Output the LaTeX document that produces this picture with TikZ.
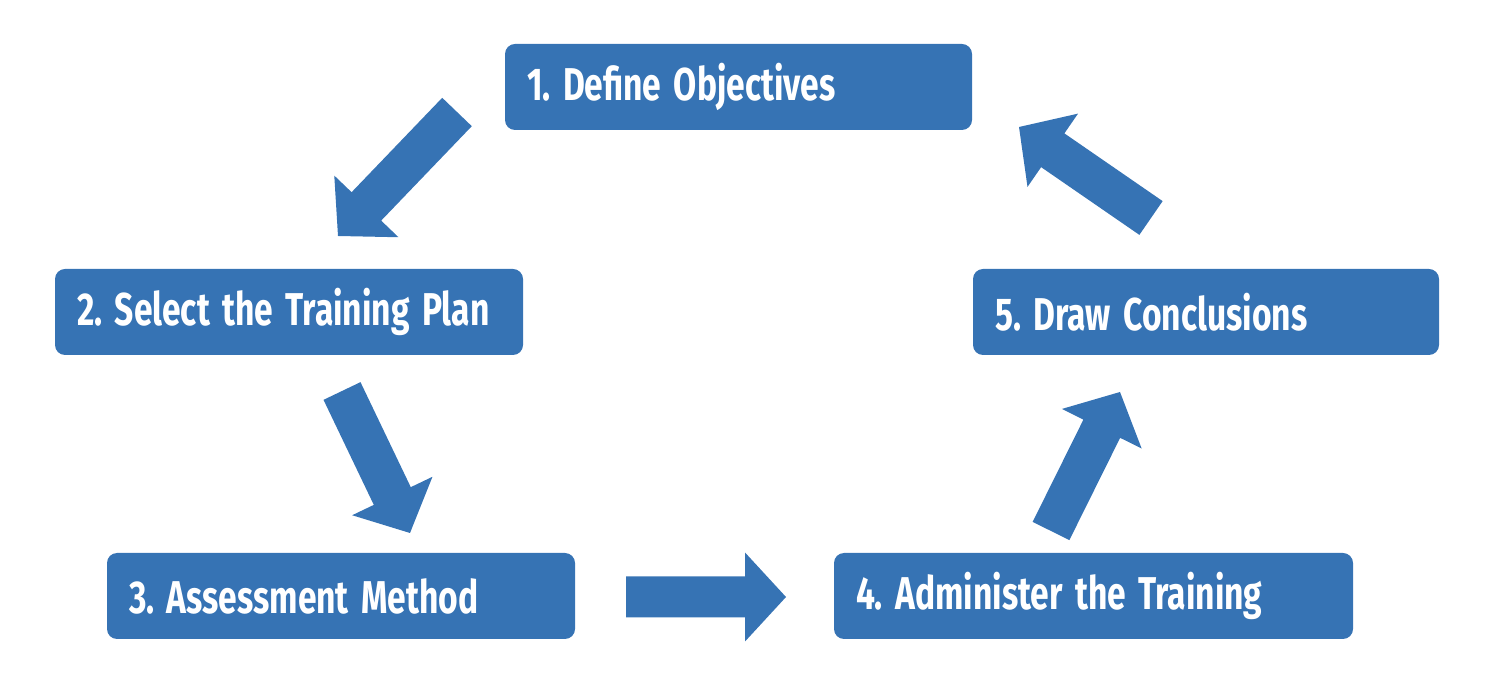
\documentclass[tikz,border=0pt]{standalone}
\usepackage{fontspec}
\setmainfont{Fira Sans}[FakeStretch=0.73]
\usetikzlibrary{calc}
\definecolor{boxblue}{RGB}{54,115,180}
\newcommand\boxtext[1]{\mbox{\spaceskip=0.27em\relax #1}}
\tikzset{
  stepbox/.style={fill=boxblue, rounded corners=5pt, minimum height=43pt,
    inner xsep=11pt, inner ysep=0pt, align=left, text=white,
    font=\fontsize{23}{26}\selectfont\bfseries\frenchspacing},
}
\newcommand\barrow[2]{%
  \fill[boxblue]
    ($(#1)!10.25pt!90:(#2)$) --
    ($($(#2)!20.5pt!(#1)$)!10.25pt!-90:(#1)$) --
    ($($(#2)!20.5pt!(#1)$)!22.25pt!-90:(#1)$) --
    (#2) --
    ($($(#2)!20.5pt!(#1)$)!22.25pt!90:(#1)$) --
    ($($(#2)!20.5pt!(#1)$)!10.25pt!90:(#1)$) --
    ($(#1)!10.25pt!-90:(#2)$) -- cycle;}
\begin{document}
\begin{tikzpicture}[x=0.5pt,y=-0.5pt]
\useasboundingbox (0,0) rectangle (1504,688);
\node[stepbox, text width=211.5pt] (s1) at (738.5,87) {\boxtext{1. Define Objectives}};
\node[stepbox, text width=212pt] (s2) at (289,312) {\boxtext{2. Select the Training Plan}};
\node[stepbox, text width=212pt] (s3) at (341,596) {\boxtext{3. Assessment Method}};
\node[stepbox, text width=237.5pt] (s4) at (1093.5,596) {\boxtext{4. Administer the Training}};
\node[stepbox, text width=211pt] (s5) at (1206,312) {\boxtext{5. Draw Conclusions}};
\coordinate (a1s) at (457,112); \coordinate (a1e) at (338,236);
\coordinate (a2s) at (342,391); \coordinate (a2e) at (410,533);
\coordinate (a3s) at (626,597); \coordinate (a3e) at (786,597);
\coordinate (a4s) at (1051,531); \coordinate (a4e) at (1120,392);
\coordinate (a5s) at (1151,218); \coordinate (a5e) at (1019,127);
\barrow{a1s}{a1e}
\barrow{a2s}{a2e}
\barrow{a3s}{a3e}
\barrow{a4s}{a4e}
\barrow{a5s}{a5e}
\end{tikzpicture}
\end{document}
